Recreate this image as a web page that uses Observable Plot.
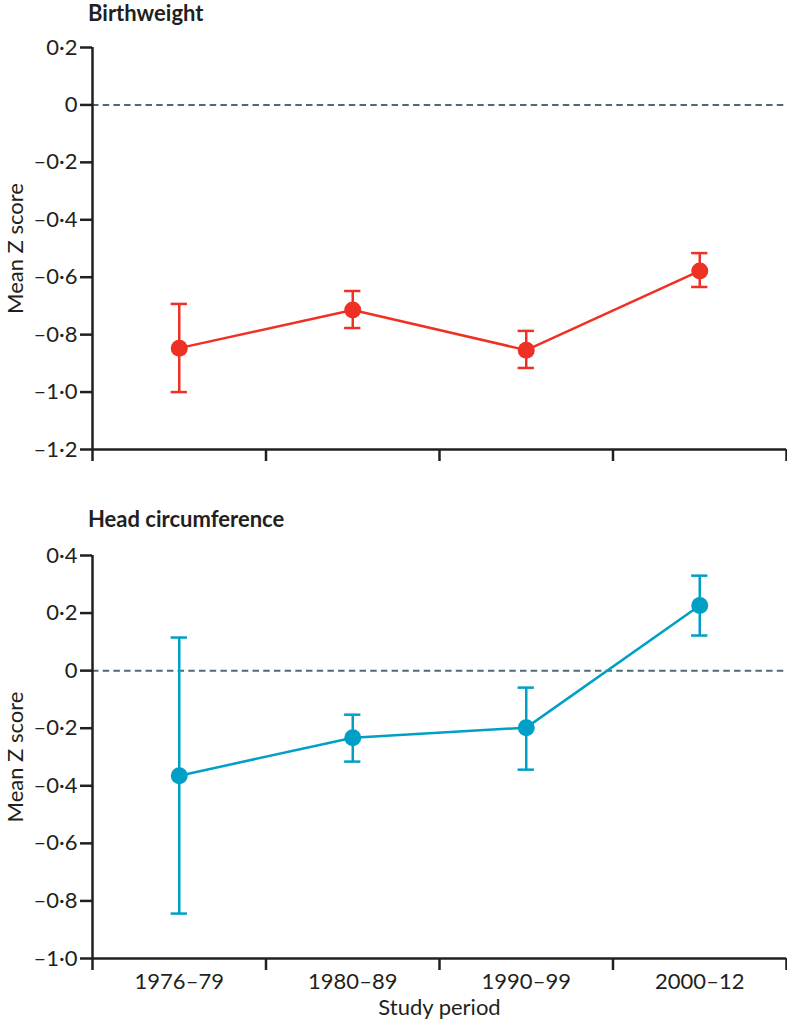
<!DOCTYPE html>
<html>
<head>
<meta charset="utf-8">
<script src="https://cdn.jsdelivr.net/npm/d3@7"></script>
<script src="https://cdn.jsdelivr.net/npm/@observablehq/plot@0.6"></script>
<style>
  html, body { margin: 0; padding: 0; background: #fff; }
  #wrap { position: relative; width: 787px; height: 1027px; font-family: Lato, "Open Sans", sans-serif; color: #231f20; }
  .panel { position: absolute; left: 0; }
  .title { position: absolute; left: 88px; font-weight: bold; font-size: 22px; line-height: 1; z-index: 2; }
</style>
</head>
<body>
<div id="wrap">
  <div class="title" id="t1" style="top:2px">Birthweight</div>
  <div class="panel" id="p1" style="top:0px"></div>
  <div class="title" id="t2" style="top:508px">Head circumference</div>
  <div class="panel" id="p2" style="top:500px"></div>
</div>
<script>
const periods = ["1976–79", "1980–89", "1990–99", "2000–12"];

const bwMean  = [-0.847, -0.714, -0.854, -0.578];
const bwLow   = [-1.000, -0.777, -0.916, -0.634];
const bwHigh  = [-0.693, -0.648, -0.787, -0.516];

const hcMean  = [-0.365, -0.233, -0.198, 0.226];
const hcLow   = [-0.844, -0.316, -0.344, 0.122];
const hcHigh  = [ 0.115, -0.153, -0.059, 0.330];

const bwTicks = [0.2, 0, -0.2, -0.4, -0.6, -0.8, -1.0, -1.2];
const hcTicks = [0.4, 0.2, 0, -0.2, -0.4, -0.6, -0.8, -1.0];

const ink = "#231f20";
const fs = 22;
const fmt = d => d === 0 ? "0" : (d < 0 ? "–" : "") + Math.abs(d).toFixed(1).replace(".", "·");

function panel({mean, low, high, ticks, domain, color, height, marginTop, marginBottom, xLabels, xTitle}) {
  const data = periods.map((p, i) => ({p, i: i + 0.5, m: mean[i], lo: low[i], hi: high[i]}));
  const cap = 0.047;
  const marks = [
    Plot.ruleY([0], {stroke: "#4f6a75", strokeWidth: 2, strokeDasharray: "6.5,4.2"}),
    Plot.ruleX(data, {x: "i", y1: "lo", y2: "hi", stroke: color, strokeWidth: 2.5}),
    Plot.ruleY(data, {y: "lo", x1: d => d.i - cap, x2: d => d.i + cap, stroke: color, strokeWidth: 2.5}),
    Plot.ruleY(data, {y: "hi", x1: d => d.i - cap, x2: d => d.i + cap, stroke: color, strokeWidth: 2.5}),
    Plot.line(data, {x: "i", y: "m", stroke: color, strokeWidth: 2.5}),
    Plot.dot(data, {x: "i", y: "m", r: 8.5, fill: color, stroke: "none"}),
    Plot.axisY({ticks, tickFormat: fmt, tickSize: 12, tickPadding: 3, strokeWidth: 2.5, stroke: ink, fill: ink, fontSize: fs, label: null}),
    Plot.axisX({ticks: [0, 1, 2, 3, 4], tickSize: 12, tickFormat: () => "", strokeWidth: 2.5, stroke: ink, label: null}),
    Plot.ruleY([domain[0]], {stroke: ink, strokeWidth: 2.5}),
    Plot.ruleX([0], {stroke: ink, strokeWidth: 2.5}),
    Plot.text(["Mean Z score"], {frameAnchor: "left", rotate: -90, dx: -77, fontSize: fs, fill: ink, textAnchor: "middle"})
  ];
  if (xLabels) {
    marks.push(Plot.axisX({ticks: [0.5, 1.5, 2.5, 3.5], tickSize: 0, tickPadding: 15, tickFormat: v => periods[Math.floor(v)], fontSize: fs, fill: ink, label: null}));
  }
  if (xTitle) {
    marks.push(Plot.text([xTitle], {frameAnchor: "bottom", dy: 56, fontSize: fs, fill: ink}));
  }
  return Plot.plot({
    width: 787,
    height,
    marginLeft: 92,
    marginRight: 1,
    marginTop,
    marginBottom,
    style: {fontFamily: "Lato, 'Open Sans', sans-serif", background: "transparent", overflow: "visible"},
    x: {type: "linear", domain: [0, 4]},
    y: {domain},
    marks
  });
}

document.getElementById("p1").append(panel({
  mean: bwMean, low: bwLow, high: bwHigh, ticks: bwTicks, domain: [-1.2, 0.2],
  color: "#ee3124", height: 470, marginTop: 47, marginBottom: 21
}));
document.getElementById("p2").append(panel({
  mean: hcMean, low: hcLow, high: hcHigh, ticks: hcTicks, domain: [-1.0, 0.4],
  color: "#00a0c6", height: 527, marginTop: 55, marginBottom: 69,
  xLabels: true, xTitle: "Study period"
}));
</script>
</body>
</html>
